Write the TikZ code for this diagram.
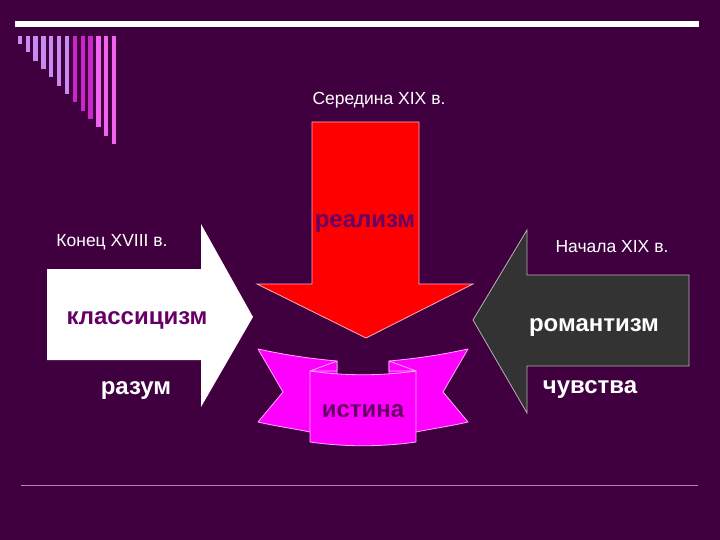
\documentclass[tikz,border=0pt]{standalone}
\usepackage{fontspec}
\setmainfont{Liberation Sans}
\definecolor{bg}{RGB}{64,0,64}
\definecolor{darktext}{RGB}{102,0,102}
\definecolor{barA}{RGB}{200,140,240}
\definecolor{barB}{RGB}{200,40,200}
\definecolor{barC}{RGB}{240,100,240}
\definecolor{lineC}{RGB}{180,130,190}
\definecolor{ribbon}{RGB}{255,0,255}
\definecolor{ribbonedge}{RGB}{255,170,255}
\definecolor{darkarrow}{RGB}{51,51,51}
\tikzset{
  smalltxt/.style={text=white, font=\fontsize{17.5}{20}\selectfont, anchor=base, inner sep=0pt},
  bigwhite/.style={text=white, font=\fontsize{24}{28}\selectfont\bfseries, anchor=base, inner sep=0pt},
  bigdark/.style={text=darktext, font=\fontsize{24}{28}\selectfont\bfseries, anchor=base, inner sep=0pt},
  ribbonpart/.style={fill=ribbon, draw=ribbonedge, line width=0.8pt, line join=round},
}
\begin{document}
\begin{tikzpicture}[x=1pt,y=-1pt]
\useasboundingbox (0,0) rectangle (720,540);
\fill[bg] (0,0) rectangle (720,540);
% top white line
\fill[white] (15,21) rectangle (699,27);
% bottom line
\draw[lineC, line width=1.8pt] (21,485.5) -- (698,485.5);
% bars
\foreach \i in {0,...,12}{
  \pgfmathsetmacro{\xl}{17.7+7.86*\i}
  \pgfmathsetmacro{\yb}{44+8.33*\i}
  \ifnum\i<7
    \fill[barA] (\xl,36) rectangle ({\xl+4.3},\yb);
  \else\ifnum\i<10
    \fill[barB] (\xl,36) rectangle ({\xl+4.3},\yb);
  \else
    \fill[barC] (\xl,36) rectangle ({\xl+4.3},\yb);
  \fi\fi
}
% white arrow (classicism)
\fill[white] (47,269) -- (201,269) -- (201,224) -- (253,317) -- (201,407) -- (201,360) -- (47,360) -- cycle;
% dark arrow (romanticism)
\filldraw[fill=darkarrow, draw=gray!60, line width=0.8pt] (689,275) -- (527,275) -- (527,230) -- (473,320) -- (527,413) -- (527,366) -- (689,366) -- cycle;
% red arrow (realism)
\filldraw[fill=red, draw={rgb,255:red,255;green,170;blue,190}, line width=0.8pt] (312,122) -- (419,122) -- (419,284) -- (473,284) -- (366,338) -- (257,284) -- (312,284) -- cycle;
% ribbon wings
\filldraw[ribbonpart] (258,349) .. controls (290,356) and (315,359) .. (337,361) -- (337,432) -- (310,432) .. controls (290,428) and (275,426) .. (258,422) -- (283,392) -- cycle;
\filldraw[ribbonpart] (468,349) .. controls (436,356) and (411,359) .. (389,361) -- (389,432) -- (416,432) .. controls (436,428) and (451,426) .. (468,422) -- (443,392) -- cycle;
% folds
\filldraw[ribbonpart] (337,361) -- (310,371) -- (337,371) -- cycle;
\filldraw[ribbonpart] (389,361) -- (416,371) -- (389,371) -- cycle;
% center panel
\filldraw[ribbonpart] (310,371) .. controls (345,376) and (381,376) .. (416,371) -- (416,442) .. controls (381,447) and (345,447) .. (310,442) -- cycle;
% texts
\node[smalltxt] (konec) at (112,247) {Конец XVIII в.};
\node[bigdark] (klass) at (137,324) {классицизм};
\node[bigwhite] (razum) at (136,394) {разум};
\node[smalltxt] (nachala) at (612,252) {Начала XIX в.};
\node[bigwhite] (romant) at (594,331) {романтизм};
\node[bigwhite] (chuv) at (590,393) {чувства};
\node[smalltxt] (sered) at (379,105) {Середина XIX в.};
\node[bigdark] (real) at (365,227) {реализм};
\node[bigdark] (ist) at (363,417) {истина};
\end{tikzpicture}
\end{document}
